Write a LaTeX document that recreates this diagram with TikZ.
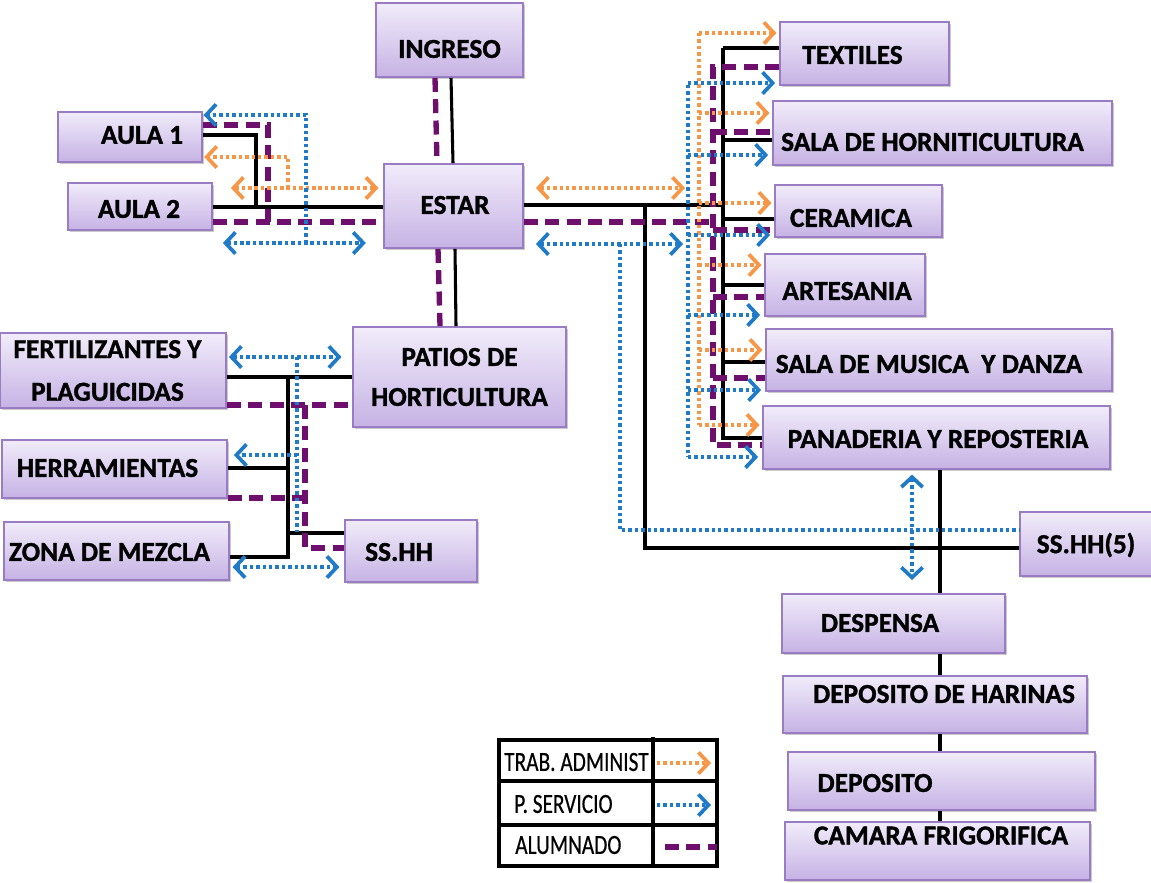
\documentclass[tikz,border=0pt]{standalone}
\usepackage{fontspec}
\setmainfont{Carlito}[BoldFeatures={FakeBold=1.2}]
\newfontfamily\lgfont{Carlito}[FakeBold=0.6]
\usetikzlibrary{arrows.meta,shadows}
\definecolor{boxtop}{HTML}{F1ECFA}
\definecolor{boxbot}{HTML}{C6B2E4}
\definecolor{boxline}{HTML}{9A7CC4}
\definecolor{admc}{HTML}{F79646}
\definecolor{srvc}{HTML}{1F7AC8}
\definecolor{aluc}{HTML}{6E0F6E}
\tikzset{
  box/.style={draw=boxline, line width=1.3pt, top color=boxtop, bottom color=boxbot, inner sep=0pt,
    drop shadow={shadow xshift=1.8pt, shadow yshift=-1.8pt, opacity=0.35, fill=black!60}},
  lbl/.style={font=\fontsize{20.5}{30}\selectfont\bfseries, text=black, inner sep=0pt, align=center},
  lgtxt/.style={font=\lgfont\fontsize{16}{18}\selectfont, text=black, inner sep=0pt},
  blk/.style={draw=black, line width=2.3pt},
  alu/.style={draw=aluc, line width=4pt, dash pattern=on 10.5pt off 5.5pt},
  adm/.style={draw=admc, line width=2.8pt, dash pattern=on 2.6pt off 2.2pt},
  srv/.style={draw=srvc, line width=2.8pt, dash pattern=on 2.6pt off 2.2pt},
  arrR/.style={-{Straight Barb[length=7.5pt,width=16pt]}},
  arrLR/.style={{Straight Barb[length=7.5pt,width=16pt]}-{Straight Barb[length=7.5pt,width=16pt]}},
}
\newcommand\roombox[8]{%
  \node[box, minimum width={(#4-#2)*0.75pt}, minimum height={(#5-#3)*0.75pt},
    label={[lbl, shift={(#6,#7)}]center:#8}] (#1) at ({(#2+#4)/2},{(#3+#5)/2}) {};}
\newcommand\tallish[1]{\scalebox{1}[1.3]{#1}}
\begin{document}
\begin{tikzpicture}[x=0.75pt, y=-0.75pt]
\useasboundingbox (0,0) rectangle (1151,882);
% rooms
\roombox{ingreso}{376}{3}{523}{77}{0}{9}{INGRESO}
\roombox{aula1}{58}{112}{202}{162}{12}{-2}{AULA 1}
\roombox{aula2}{68}{183}{212}{230}{-1}{2.5}{AULA 2}
\roombox{estar}{384}{164}{523}{248}{1.5}{-1}{ESTAR}
\roombox{patios}{353}{327}{566}{427}{0}{0}{PATIOS DE\\HORTICULTURA}
\roombox{fert}{0}{333}{226}{408}{-5.5}{0}{FERTILIZANTES Y\\[2pt]PLAGUICIDAS}
\roombox{herr}{2}{440}{227}{498}{-7}{-1}{HERRAMIENTAS}
\roombox{zona}{4}{522}{229}{580}{-7}{1}{ZONA DE MEZCLA}
\roombox{sshh}{345}{520}{477}{582}{-12}{1}{SS.HH}
\roombox{textiles}{780}{22}{949}{85}{-12}{1.5}{TEXTILES}
\roombox{salahorn}{773}{101}{1112}{165}{-10}{9}{SALA DE HORNITICULTURA}
\roombox{ceramica}{775}{185}{942}{237}{-7.5}{7}{CERAMICA}
\roombox{artesania}{765}{254}{925}{316}{2}{6}{ARTESANIA}
\roombox{musica}{766}{329}{1112}{391}{-10}{4}{SALA DE MUSICA\ \ Y DANZA}
\roombox{panaderia}{763}{406}{1110}{469}{1.5}{1.5}{PANADERIA Y REPOSTERIA}
\roombox{ssh5}{1020}{512}{1158}{576}{-3}{1}{SS.HH(5)}
\roombox{despensa}{782}{594}{1005}{653}{-13.5}{-0.5}{DESPENSA}
\roombox{harinas}{783}{676}{1087}{733}{9}{-10.5}{DEPOSITO DE HARINAS}
\roombox{deposito}{788}{752}{1095}{810}{-66.5}{2}{DEPOSITO}
\roombox{camara}{785}{822}{1090}{880}{3.5}{-15.5}{CAMARA FRIGORIFICA}
% junction coordinates
\coordinate (jAulaBk) at (256,207);
\coordinate (jAulaAl) at (268,222);
\coordinate (busBk) at (723,48);
\coordinate (busAl) at (713,67);
\coordinate (busAd) at (699,33);
\coordinate (busSv) at (688,85);
\coordinate (jSsBk) at (645,205);
\coordinate (jSsSv) at (620,244);
\coordinate (busLBk) at (288,377);
\coordinate (busLAl) at (305,405);
\coordinate (busLSv) at (297,357);
\coordinate (endAdR) at (685,188);
\coordinate (endSvR) at (683,244);
\coordinate (endPan) at (912,580);
% ---- black: circulation lines
\draw[blk] (ingreso.south -| 451,0) -- (estar.north -| 453,0);
\draw[blk] (estar.south -| 455,0) -- (patios.north -| 456,0);
\draw[blk] (aula1.east |- 0,135) -- (jAulaBk |- 0,135) -- (jAulaBk);
\draw[blk] (aula2.east |- 0,207) -- (estar.west |- 0,207);
\draw[blk] (estar.east |- 0,205) -- (busBk |- 0,205);
\draw[blk] (busBk) -- (busBk |- 0,438) -- (panaderia.west |- 0,438);
\draw[blk] (busBk) -- (textiles.west |- busBk);
\foreach \n/\y in {salahorn/140, ceramica/219, artesania/285, musica/362}
  \draw[blk] (busBk |- 0,\y) -- (\n.west |- 0,\y);
\draw[blk] (jSsBk) -- (jSsBk |- 0,548) -- (ssh5.west |- 0,548);
\draw[blk] (panaderia.south -| 940,0) -- (despensa.north -| 940,0);
\draw[blk] (despensa.south -| 940,0) -- (harinas.north -| 940,0);
\draw[blk] (harinas.south -| 940,0) -- (deposito.north -| 940,0);
\draw[blk] (deposito.south -| 940,0) -- (camara.north -| 940,0);
\draw[blk] (fert.east |- busLBk) -- (patios.west |- busLBk);
\draw[blk] (busLBk) -- (busLBk |- 0,557) -- (zona.east |- 0,557);
\draw[blk] (herr.east |- 0,468) -- (busLBk |- 0,468);
\draw[blk] (busLBk |- 0,533) -- (sshh.west |- 0,533);
% ---- purple: alumnado
\draw[alu] (ingreso.south -| 435,0) -- (estar.north -| 437,0);
\draw[alu] (estar.south -| 438,0) -- (patios.north -| 440,0);
\draw[alu] (aula1.east |- 0,125) -- (jAulaAl |- 0,125) -- (jAulaAl);
\draw[alu] (aula2.east |- 0,222) -- (estar.west |- 0,222);
\draw[alu] (estar.east |- 0,222) -- (busAl |- 0,222);
\draw[alu] (textiles.west |- busAl) -- (busAl) -- (busAl |- 0,445) -- (panaderia.west |- 0,445);
\foreach \n/\y in {salahorn/132, ceramica/230, artesania/297, musica/378}
  \draw[alu] (busAl |- 0,\y) -- (\n.west |- 0,\y);
\draw[alu] (fert.east |- busLAl) -- (patios.west |- busLAl);
\draw[alu] (busLAl) -- (busLAl |- 0,548) -- (sshh.west |- 0,548);
\draw[alu] (herr.east |- 0,498) -- (busLAl |- 0,498);
% ---- orange: trab. administ
\draw[adm, arrLR, shorten <=13.5pt, shorten >=3.5pt] (aula2.east |- 0,188) -- (estar.west |- 0,188);
\draw[adm, arrR, shorten >=1pt] (288,188) -- (288,157) -- (aula1.east |- 0,157);
\draw[adm, arrLR, shorten <=9pt] (estar.east |- endAdR) -- (endAdR);
\draw[adm] (busAd) -- (busAd |- 0,425);
\foreach \n/\y in {textiles/33, salahorn/113, ceramica/203, artesania/265, musica/350, panaderia/425}
  \draw[adm, arrR, shorten >=2pt] (busAd |- 0,\y) -- (\n.west |- 0,\y);
% ---- blue: p. servicio
\draw[srv, arrLR, shorten <=7.5pt, shorten >=13pt] (aula2.east |- 0,243) -- (estar.west |- 0,243);
\draw[srv, arrR, shorten >=0.5pt] (306,243) -- (306,115) -- (aula1.east |- 0,115);
\draw[srv, arrLR, shorten <=9pt] (estar.east |- endSvR) -- (endSvR);
\draw[srv] (busSv) -- (busSv |- 0,457);
\foreach \n/\y in {textiles/83, salahorn/155, ceramica/235, artesania/315, musica/390, panaderia/457}
  \draw[srv, arrR, shorten >=3pt] (busSv |- 0,\y) -- (\n.west |- 0,\y);
\draw[srv] (jSsSv) -- (jSsSv |- 0,530) -- (ssh5.west |- 0,530);
\draw[srv, arrLR, shorten <=3.5pt] (panaderia.south -| endPan) -- (endPan);
\draw[srv, arrLR, shorten <=1.5pt, shorten >=8pt] (fert.east |- busLSv) -- (patios.west |- busLSv);
\draw[srv] (busLSv) -- (busLSv |- 0,532);
\draw[srv, arrR, shorten >=4.5pt] (busLSv |- 0,455) -- (herr.east |- 0,455);
\draw[srv, arrLR, shorten <=2pt, shorten >=3.5pt] (zona.east |- 0,567) -- (sshh.west |- 0,567);
% ---- legend
\draw[line width=2.3pt] (499,740) rectangle (717,866);
\draw[line width=2.3pt] (653,737) -- (653,866);
\draw[line width=2.3pt] (499,781) -- (717,781);
\draw[line width=2.3pt] (499,825) -- (717,825);
\node[lgtxt, anchor=west] (lgA) at (504,762) {\tallish{TRAB. ADMINIST}};
\node[lgtxt, anchor=west] (lgS) at (514,804) {\tallish{P. SERVICIO}};
\node[lgtxt, anchor=west] (lgU) at (515,845) {\tallish{ALUMNADO}};
\coordinate (sA1) at (657,763); \coordinate (sA2) at (711,763);
\coordinate (sS1) at (657,805); \coordinate (sS2) at (711,805);
\coordinate (sU1) at (665,847); \coordinate (sU2) at (717,847);
\draw[adm, arrR] (sA1) -- (sA2);
\draw[srv, arrR] (sS1) -- (sS2);
\draw[alu] (sU1) -- (sU2);
\end{tikzpicture}
\end{document}
